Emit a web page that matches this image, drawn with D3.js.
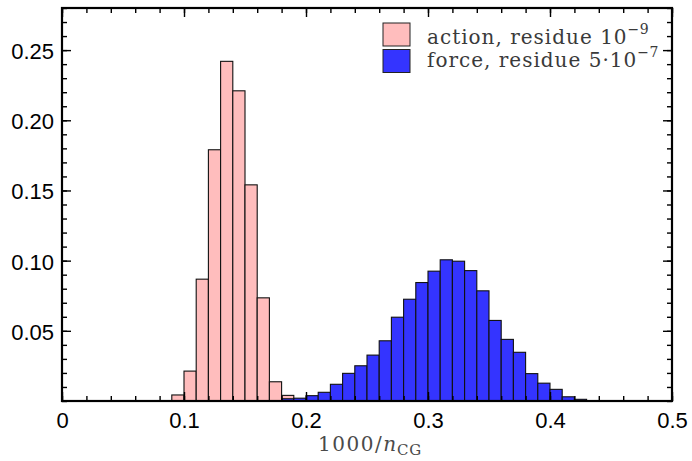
<!DOCTYPE html>
<html>
<head>
<meta charset="utf-8">
<script src="https://cdn.jsdelivr.net/npm/d3@7"></script>
<style>
  body { margin: 0; background: #fff; }
  svg { display: block; }
</style>
</head>
<body>
<div id="chart"></div>
<script>
// bin width of both histograms (in units of 1000/n_CG)
const binWidth = 0.01;

// "action, residue 1e-9" histogram: left bin edges and fractions
const actionBins = [0.09, 0.10, 0.11, 0.12, 0.13, 0.14, 0.15, 0.16, 0.17, 0.18];
const actionValues = [0.0043, 0.0213, 0.0868, 0.179, 0.242, 0.221, 0.154, 0.0735, 0.0137, 0.004];

// "force, residue 5e-7" histogram
const forceBins = [0.18, 0.19, 0.20, 0.21, 0.22, 0.23, 0.24, 0.25, 0.26, 0.27, 0.28, 0.29, 0.30,
                   0.31, 0.32, 0.33, 0.34, 0.35, 0.36, 0.37, 0.38, 0.39, 0.40, 0.41, 0.42];
const forceValues = [0.0016, 0.002, 0.0038, 0.0062, 0.0119, 0.0197, 0.0251, 0.0327, 0.0429, 0.0597,
                     0.0725, 0.0844, 0.0925, 0.1006, 0.0996, 0.0929, 0.0785, 0.0574, 0.0439, 0.0347,
                     0.0195, 0.0127, 0.0083, 0.003, 0.0012];

const xMajor = [0, 0.1, 0.2, 0.3, 0.4, 0.5];
const yMajor = [0.05, 0.10, 0.15, 0.20, 0.25];

const W = 692, H = 461;
const mLeft = 62, mRight = 672, mTop = 8, mBottom = 401;

const svg = d3.select("#chart").append("svg")
    .attr("width", W)
    .attr("height", H);

const x = d3.scaleLinear().domain([0, 0.5]).range([mLeft, mRight]);
const y = d3.scaleLinear().domain([0, 0.28]).range([mBottom, mTop]);

const pink = "#ffbdbd", blue = "#3434ff";

// histogram bars, force drawn on top of action
function drawHist(bins, values, fill) {
    svg.append("g").selectAll("rect")
        .data(bins.map((b, i) => ({ b, v: values[i] })))
        .join("rect")
        .attr("x", d => x(d.b))
        .attr("width", d => x(d.b + binWidth) - x(d.b))
        .attr("y", d => y(d.v))
        .attr("height", d => y(0) - y(d.v))
        .attr("fill", fill)
        .attr("stroke", "#111")
        .attr("stroke-width", 1.1);
}
drawHist(actionBins, actionValues, pink);
drawHist(forceBins, forceValues, blue);

// axes: ticks pointing inward, labels on bottom and left only
const xMinor = d3.range(0, 0.5001, 0.02);
const yMinor = d3.range(0, 0.2801, 0.01);

function tickLayer(axisFn, scale, values, size, pos, fmt) {
    const g = svg.append("g")
        .attr("transform", pos)
        .call(axisFn(scale).tickValues(values).tickSize(size).tickSizeOuter(0)
              .tickFormat(fmt || ""));
    g.select(".domain").remove();
    g.selectAll(".tick line").attr("stroke", "#000").attr("stroke-width", 1.4);
    return g;
}

tickLayer(d3.axisBottom, x, xMinor, -5, `translate(0,${mBottom})`);
tickLayer(d3.axisTop, x, xMinor, -5, `translate(0,${mTop})`);
tickLayer(d3.axisTop, x, xMajor, -9, `translate(0,${mTop})`);
tickLayer(d3.axisLeft, y, yMinor, -5, `translate(${mLeft},0)`);
tickLayer(d3.axisRight, y, yMinor, -5, `translate(${mRight},0)`);
tickLayer(d3.axisRight, y, yMajor, -9, `translate(${mRight},0)`);

const gx = tickLayer(d3.axisBottom, x, xMajor, -9, `translate(0,${mBottom})`,
    d => d === 0 ? "0" : d3.format(".1f")(d));
gx.selectAll("text")
    .attr("y", 27).attr("dy", 0)
    .attr("font-family", "'Liberation Sans', Arial, sans-serif")
    .attr("font-size", 22).attr("fill", "#000");

const gy = tickLayer(d3.axisLeft, y, yMajor, -9, `translate(${mLeft},0)`, d3.format(".2f"));
gy.selectAll("text")
    .attr("x", -8).attr("dy", 8.5)
    .attr("font-family", "'Liberation Sans', Arial, sans-serif")
    .attr("font-size", 22).attr("fill", "#000");

// frame
svg.append("rect")
    .attr("x", mLeft).attr("y", mTop)
    .attr("width", mRight - mLeft).attr("height", mBottom - mTop)
    .attr("fill", "none")
    .attr("stroke", "#000")
    .attr("stroke-width", 2.2);

// legend
const serif = "'DejaVu Serif', serif";
const legend = [
    { fill: pink, text: "action, residue 10", exp: "\u22129" },
    { fill: blue, text: "force, residue 5\u00b710", exp: "\u22127" }
];
const lg = svg.append("g");
legend.forEach((d, i) => {
    lg.append("rect")
        .attr("x", 383).attr("y", 23 + i * 26.5)
        .attr("width", 27).attr("height", 23)
        .attr("fill", d.fill)
        .attr("stroke", "#222").attr("stroke-width", 1);
    const t = lg.append("text")
        .attr("x", 427).attr("y", 44 + i * 23)
        .attr("font-family", serif)
        .attr("font-size", 20)
        .attr("letter-spacing", 1)
        .attr("fill", "#3a3a3a")
        .text(d.text);
    t.append("tspan")
        .attr("dy", -10.5)
        .attr("font-size", 14)
        .attr("letter-spacing", 0.5)
        .text(d.exp);
});

// x axis title: 1000/n_CG
const xt = svg.append("text")
    .attr("x", 318).attr("y", 451)
    .attr("font-family", serif)
    .attr("font-size", 20)
    .attr("letter-spacing", 1.5)
    .attr("fill", "#4a4a4a")
    .text("1000/");
xt.append("tspan").attr("font-style", "italic").attr("letter-spacing", 1).text("n");
xt.append("tspan").attr("dy", 4).attr("font-size", 15).attr("letter-spacing", 0.8).text("CG");
</script>
</body>
</html>
